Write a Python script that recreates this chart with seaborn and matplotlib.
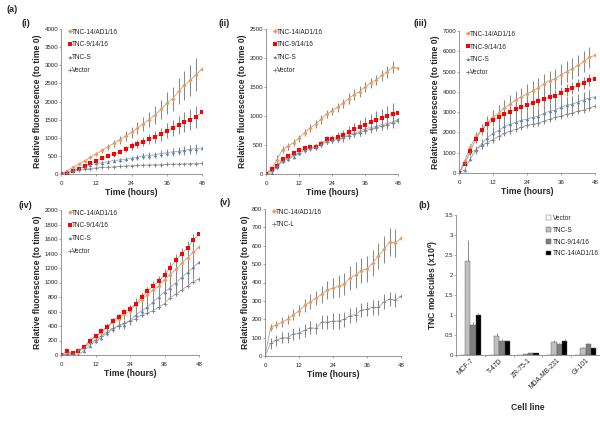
import numpy as np
import pandas as pd
import matplotlib
matplotlib.use("Agg")
import matplotlib.pyplot as plt
from matplotlib.lines import Line2D
import seaborn as sns

# ---------------- data ----------------
hours = [0, 2, 4, 6, 8, 10, 12, 14, 16, 18, 20, 22, 24,
         26, 28, 30, 32, 34, 36, 38, 40, 42, 44, 46, 48]

# panel (i)
i_tnc14 = [0, 90, 180, 270, 360, 460, 560, 650, 750, 850, 950, 1050, 1150,
           1260, 1380, 1500, 1630, 1780, 1950, 2080, 2280, 2450, 2580, 2740, 2900]
i_tnc14_err = [0, 10, 20, 30, 40, 50, 60, 70, 80, 100, 110, 130, 150,
               170, 190, 210, 240, 270, 300, 330, 360, 400, 430, 460, 500]
i_tnc9 = [0, 10, 80, 150, 210, 290, 370, 440, 500, 540, 620, 700, 770,
          830, 890, 970, 1020, 1100, 1200, 1260, 1350, 1430, 1500, 1570, 1700]
i_tnc9_err = [0, 5, 10, 15, 20, 25, 30, 40, 50, 60, 70, 80, 100,
              110, 120, 140, 160, 180, 200, 220, 240, 270, 290, 310, 330]
i_tncs = [0, 50, 100, 150, 200, 250, 290, 310, 340, 370, 390, 410, 430,
          460, 490, 510, 530, 560, 590, 610, 630, 650, 680, 700, 720]
i_tncs_err = [0, 10, 15, 20, 25, 30, 35, 40, 45, 50, 55, 60, 70,
              75, 80, 85, 90, 95, 100, 105, 110, 120, 130, 140, 150]
i_vec = [0, 40, 80, 110, 130, 150, 170, 180, 190, 200, 210, 220, 230,
         240, 245, 250, 255, 260, 265, 270, 275, 280, 285, 288, 290]
i_vec_err = [0, 10, 15, 20, 20, 25, 25, 25, 30, 30, 30, 30, 30,
             30, 30, 30, 30, 30, 30, 30, 30, 30, 30, 30, 30]

# panel (ii)
ii_tnc14 = [0, 90, 250, 420, 480, 540, 620, 710, 790, 860, 940, 1030, 1090,
            1150, 1220, 1300, 1370, 1420, 1500, 1570, 1620, 1700, 1760, 1840, 1820]
ii_tnc14_err = [0, 30, 80, 60, 60, 60, 60, 60, 70, 70, 70, 70, 70,
                80, 80, 90, 90, 90, 90, 90, 90, 90, 100, 100, 100]
ii_tnc9 = [0, 90, 140, 260, 310, 360, 410, 440, 460, 470, 520, 600, 610,
           640, 670, 720, 770, 810, 850, 890, 930, 960, 1000, 1040, 1060]
ii_tnc9_err = [0, 20, 30, 30, 30, 30, 40, 40, 40, 40, 50, 60, 70,
               80, 90, 100, 110, 120, 130, 140, 150, 160, 180, 190, 200]
ii_tncs = [0, 20, 120, 220, 260, 300, 360, 410, 450, 470, 520, 570, 590,
           610, 630, 680, 710, 730, 780, 800, 820, 850, 870, 900, 940]
ii_tncs_err = [0, 20, 30, 30, 40, 40, 40, 50, 50, 50, 60, 60, 60,
               60, 70, 70, 70, 70, 80, 80, 80, 90, 90, 100, 100]
ii_vec = [0, 60, 130, 230, 280, 320, 370, 420, 440, 460, 510, 560, 580,
          600, 620, 660, 690, 710, 750, 770, 800, 820, 850, 880, 920]
ii_vec_err = [0, 20, 30, 30, 40, 40, 40, 40, 40, 40, 50, 50, 50,
              50, 50, 50, 60, 60, 60, 60, 60, 60, 60, 60, 60]

# panel (iii)
iii_tnc14 = [0, 600, 1300, 1800, 2150, 2500, 2750, 2950, 3200, 3400, 3600, 3750, 3900,
             4050, 4200, 4400, 4550, 4650, 4850, 5000, 5150, 5300, 5500, 5700, 5800]
iii_tnc14_err = [0, 100, 150, 200, 250, 300, 350, 400, 420, 440, 450, 460, 470,
                 480, 480, 490, 490, 500, 500, 500, 500, 500, 500, 500, 500]
iii_tnc9 = [0, 450, 1100, 1700, 2100, 2400, 2600, 2750, 2900, 3000, 3150, 3250, 3350,
            3450, 3550, 3650, 3750, 3800, 3950, 4100, 4200, 4350, 4450, 4600, 4650]
iii_tnc9_err = [0, 80, 150, 200, 250, 280, 300, 300, 300, 300, 300, 300, 300,
                300, 300, 300, 300, 300, 300, 300, 300, 300, 300, 300, 300]
iii_tncs = [0, 150, 700, 1150, 1450, 1750, 1950, 2100, 2300, 2400, 2500, 2600, 2650,
            2750, 2800, 2950, 3050, 3100, 3250, 3350, 3400, 3500, 3600, 3700, 3750]
iii_tncs_err = [0, 60, 120, 200, 250, 300, 330, 350, 370, 380, 400, 400, 400,
                400, 400, 400, 400, 400, 400, 400, 400, 400, 400, 400, 400]
iii_vec = [0, 500, 1000, 1150, 1350, 1500, 1650, 1800, 1950, 2050, 2150, 2250, 2350,
           2400, 2450, 2550, 2650, 2750, 2800, 2900, 2950, 3050, 3100, 3200, 3300]
iii_vec_err = [0, 50, 100, 120, 150, 150, 150, 150, 150, 150, 150, 150, 150,
               150, 150, 150, 150, 150, 150, 150, 150, 150, 150, 150, 150]

# panel (iv)
iv_tnc14 = [0, 20, 20, 40, 100, 190, 250, 310, 380, 450, 500, 560, 610,
            690, 760, 830, 890, 950, 1040, 1110, 1180, 1270, 1340, 1420, 1490]
iv_tnc14_err = [0, 20, 20, 20, 30, 30, 40, 40, 50, 60, 60, 70, 80,
                90, 100, 110, 120, 130, 140, 150, 150, 160, 170, 170, 180]
iv_tnc9 = [0, 50, 25, 50, 110, 200, 260, 330, 390, 470, 530, 590, 640,
           710, 800, 880, 950, 1020, 1110, 1200, 1310, 1400, 1480, 1580, 1670]
iv_tnc9_err = [0, 20, 20, 20, 30, 30, 30, 40, 40, 40, 40, 50, 50,
               60, 60, 60, 70, 70, 70, 80, 80, 80, 90, 90, 100]
iv_tncs = [0, 10, 0, 0, 60, 130, 190, 240, 300, 360, 410, 420, 480,
           550, 610, 660, 730, 800, 870, 930, 1000, 1070, 1140, 1210, 1280]
iv_tncs_err = [0, 10, 10, 20, 20, 20, 30, 30, 40, 40, 50, 60, 70,
               80, 90, 100, 110, 120, 130, 140, 150, 150, 160, 160, 170]
iv_vec = [0, 10, 20, 70, 100, 160, 210, 260, 320, 370, 400, 440, 470,
          500, 550, 580, 610, 660, 710, 790, 840, 900, 950, 1010, 1050]
iv_vec_err = [0, 10, 10, 10, 10, 10, 10, 10, 10, 10, 10, 10, 10,
              10, 10, 10, 10, 20, 20, 20, 20, 20, 20, 20, 20]

# panel (v)
v_tnc14 = [0, 155, 170, 185, 200, 225, 245, 275, 295, 315, 335, 360, 370,
           380, 390, 425, 440, 465, 475, 505, 545, 580, 620, 615, 640]
v_tnc14_err = [0, 20, 20, 25, 25, 30, 30, 35, 40, 40, 45, 50, 55,
               60, 60, 65, 70, 70, 70, 70, 70, 75, 75, 75, 80]
v_tncl = [0, 70, 85, 100, 100, 120, 125, 140, 155, 150, 185, 185, 190,
          190, 200, 220, 225, 250, 255, 265, 265, 295, 310, 305, 325]
v_tncl_err = [0, 30, 30, 30, 30, 35, 35, 35, 35, 30, 40, 40, 45,
              45, 40, 40, 40, 40, 40, 40, 40, 40, 40, 40, 40]

# panel (b)
cell_lines = ["MCF-7", "T-47D", "ZR-75-1", "MDA-MB-231", "GI-101"]
constructs = ["Vector", "TNC-S", "TNC-9/14/16", "TNC-14/AD1/16"]
b_vector = [0, 0, 0, 0, 0]
b_tncs = [2.35, 0.48, 0.02, 0.33, 0.17]
b_tnc9 = [0.75, 0.36, 0.04, 0.28, 0.27]
b_tnc14 = [0.99, 0.34, 0.04, 0.36, 0.18]
b_vector_err = [0, 0, 0, 0, 0]
b_tncs_err = [0.52, 0.08, 0.005, 0.04, 0.02]
b_tnc9_err = [0.08, 0.04, 0.005, 0.03, 0.02]
b_tnc14_err = [0.06, 0.03, 0.005, 0.03, 0.01]

# ---------------- style ----------------
sns.set_style("ticks")
plt.rcParams["font.family"] = ["Liberation Sans", "DejaVu Sans"]
plt.rcParams["mathtext.default"] = "regular"

ORANGE = "#F79646"
RED = "#FF0000"
BLUE = "#4F81BD"
GREY = "#808080"
LINE = "#a6a6a6"
ERR = "#888888"
AX = "#868686"

W, H = 600, 433
fig = plt.figure(figsize=(6, 4.33), dpi=100)


def px_rect(x0, y0, x1, y1):
    return [x0 / W, 1 - y1 / H, (x1 - x0) / W, (y1 - y0) / H]


def style_axes(ax):
    sns.despine(ax=ax)
    for side in ["left", "bottom"]:
        ax.spines[side].set_color(AX)
        ax.spines[side].set_linewidth(0.6)
    ax.tick_params(axis="both", direction="out", length=1.5, width=0.5,
                   color=AX, labelsize=4.4)
    ax.tick_params(axis="y", pad=0.6)
    ax.tick_params(axis="x", pad=3.2)


def line_panel(ax, series, ymax, ystep):
    handles = []
    for name, vals, errs, color, marker, size in series:
        df = pd.DataFrame({"Time": hours, "Value": vals})
        ax.errorbar(hours, vals, yerr=errs, fmt="none", ecolor=ERR,
                    elinewidth=0.75, capsize=0, zorder=1)
        sns.lineplot(data=df, x="Time", y="Value", ax=ax, color=LINE,
                     lw=0.6, zorder=2)
        if marker == "+":
            sns.scatterplot(data=df, x="Time", y="Value", ax=ax, color=color,
                            marker=marker, s=size, linewidth=0.6, zorder=3)
        else:
            sns.scatterplot(data=df, x="Time", y="Value", ax=ax, color=color,
                            marker=marker, s=size, linewidth=0, zorder=3)
        handles.append(Line2D([], [], color=LINE, lw=0.6, marker=marker,
                              markerfacecolor=color, markeredgecolor=color,
                              markersize=2.3,
                              markeredgewidth=0.6 if marker == "+" else 0,
                              label=name))
    ax.set_xlim(0, 48)
    ax.set_xticks([0, 12, 24, 36, 48])
    ax.set_ylim(0, ymax)
    ax.set_yticks(np.arange(0, ymax + ystep / 2, ystep))
    ax.set_xlabel("Time (hours)", fontsize=6.2, fontweight="bold", labelpad=1.5)
    ax.set_ylabel("Relative fluorescence (to time 0)", fontsize=6.2,
                  fontweight="bold", labelpad=1.5)
    style_axes(ax)
    ax.legend(handles=handles, loc="upper left", bbox_to_anchor=(0.02, 1.03),
              frameon=False, fontsize=4.7, handlelength=0.6,
              handletextpad=0.1, labelspacing=0.9, borderaxespad=0.2)


four = lambda a, ae, b, be, c, ce, d, de: [
    ("TNC-14/AD1/16", a, ae, ORANGE, "D", 4.5),
    ("TNC-9/14/16", b, be, RED, "s", 5.5),
    ("TNC-S", c, ce, BLUE, "^", 6),
    ("Vector", d, de, GREY, "+", 6),
]

ax1 = fig.add_axes(px_rect(61, 29, 202, 174))
line_panel(ax1, four(i_tnc14, i_tnc14_err, i_tnc9, i_tnc9_err,
                     i_tncs, i_tncs_err, i_vec, i_vec_err), 4000, 500)

ax2 = fig.add_axes(px_rect(266, 29, 398, 174))
line_panel(ax2, four(ii_tnc14, ii_tnc14_err, ii_tnc9, ii_tnc9_err,
                     ii_tncs, ii_tncs_err, ii_vec, ii_vec_err), 2500, 500)

ax3 = fig.add_axes(px_rect(459, 31, 595, 173))
line_panel(ax3, four(iii_tnc14, iii_tnc14_err, iii_tnc9, iii_tnc9_err,
                     iii_tncs, iii_tncs_err, iii_vec, iii_vec_err), 7000, 1000)

ax4 = fig.add_axes(px_rect(61, 210, 199, 355))
line_panel(ax4, four(iv_tnc14, iv_tnc14_err, iv_tnc9, iv_tnc9_err,
                     iv_tncs, iv_tncs_err, iv_vec, iv_vec_err), 2000, 200)

ax5 = fig.add_axes(px_rect(265, 209, 401, 356))
line_panel(ax5, [("TNC-14/AD1/16", v_tnc14, v_tnc14_err, ORANGE, "D", 4.5),
                 ("TNC-L", v_tncl, v_tncl_err, GREY, "+", 6)], 800, 100)

# ---------------- panel (b) bars ----------------
ax6 = fig.add_axes(px_rect(456, 215, 600, 355))
bar_df = pd.DataFrame({
    "Cell line": cell_lines * 4,
    "Construct": [c for c in constructs for _ in cell_lines],
    "Value": b_vector + b_tncs + b_tnc9 + b_tnc14,
})
bar_err = [b_vector_err, b_tncs_err, b_tnc9_err, b_tnc14_err]
bar_colors = ["#ffffff", "#bfbfbf", "#7f7f7f", "#000000"]
sns.barplot(data=bar_df, x="Cell line", y="Value", hue="Construct",
            hue_order=constructs, order=cell_lines, palette=bar_colors,
            width=0.74, edgecolor="#595959", linewidth=0.3, ax=ax6)
for cont, errs in zip(ax6.containers, bar_err):
    xs = [b.get_x() + b.get_width() / 2 for b in cont]
    ys = [b.get_height() for b in cont]
    ax6.errorbar(xs, ys, yerr=[[0] * len(errs), errs], fmt="none",
                 ecolor=ERR, elinewidth=0.7, capsize=0, zorder=3)
ax6.set_xlim(-0.5, 4.5)
ax6.set_ylim(0, 3.5)
ax6.set_yticks(np.arange(0, 3.51, 0.5))
ax6.set_yticklabels(["0", "0.5", "1", "1.5", "2", "2.5", "3", "3.5"])
style_axes(ax6)
ax6.tick_params(axis="x", length=0, pad=1.5)
ax6.set_xticks(np.arange(-0.5, 4.6, 1), minor=True)
ax6.tick_params(axis="x", which="minor", direction="out", length=1.5,
                width=0.5, color=AX)
plt.setp(ax6.get_xticklabels(), rotation=45, ha="right",
         rotation_mode="anchor", fontsize=4.9)
ax6.set_xlabel("Cell line", fontsize=6.2, fontweight="bold", labelpad=9)
ax6.set_ylabel("TNC molecules (x10$^{6}$)", fontsize=6.2, fontweight="bold",
               labelpad=3)
ax6.legend(loc="upper right", bbox_to_anchor=(1.02, 1.03), frameon=False,
           fontsize=4.7, handlelength=0.7, handleheight=0.7,
           handletextpad=0.3, labelspacing=0.75, borderaxespad=0.2)

# ---------------- panel labels ----------------
labels = [("(a)", 12, 10), ("(i)", 25.5, 23.5), ("(ii)", 224.5, 23.5),
          ("(iii)", 420.5, 23.5), ("(iv)", 25, 205), ("(v)", 225, 203),
          ("(b)", 424, 205)]
for txt, x, y in labels:
    fig.text(x / W, 1 - y / H, txt, fontsize=6.5, fontweight="bold",
             ha="center", va="center")

fig.savefig("out.png", dpi=100)
